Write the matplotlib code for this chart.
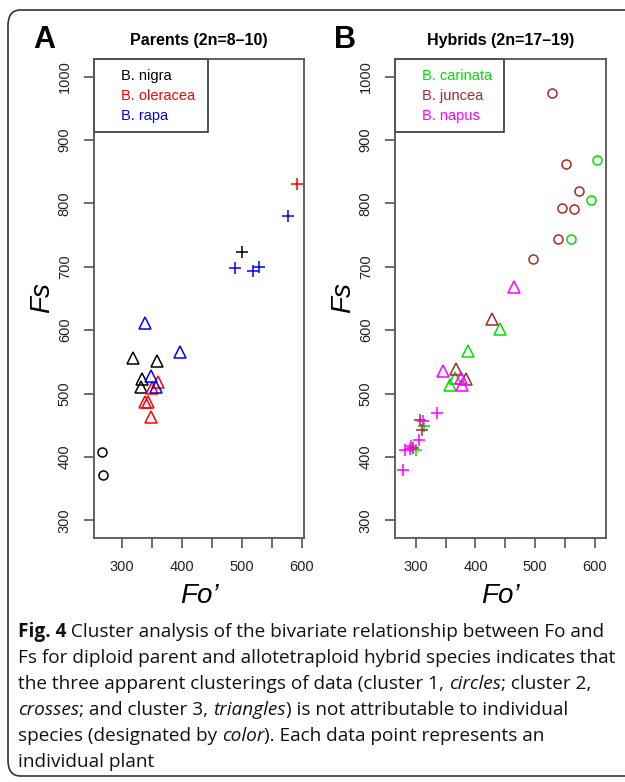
import matplotlib
matplotlib.use("Agg")
import matplotlib.pyplot as plt
from matplotlib.patches import FancyBboxPatch

W, H = 625, 782

# ---------------- data ----------------
# cluster codes: 1 = circle, 2 = cross, 3 = triangle
nigra_fo = [266, 269, 500, 318, 358, 334, 331]
nigra_fs = [408, 372, 723, 556, 552, 523, 510]
nigra_cl = [1, 1, 2, 3, 3, 3, 3]

oleracea_fo = [591, 360, 350, 339, 343, 348]
oleracea_fs = [831, 519, 508, 486, 486, 463]
oleracea_cl = [2, 3, 3, 3, 3, 3]

rapa_fo = [576, 488, 518, 528, 339, 397, 348, 356]
rapa_fs = [780, 698, 693, 700, 612, 565, 527, 511]
rapa_cl = [2, 2, 2, 2, 3, 3, 3, 3]

carinata_fo = [604, 593, 560, 441, 387, 366, 358, 314, 300]
carinata_fs = [868, 805, 744, 602, 567, 525, 514, 448, 411]
carinata_cl = [1, 1, 1, 3, 3, 3, 3, 2, 2]

juncea_fo = [528, 551, 574, 544, 565, 538, 496, 428, 368, 385, 308, 310, 296]
juncea_fs = [975, 862, 819, 793, 792, 744, 712, 617, 538, 523, 458, 442, 414]
juncea_cl = [1, 1, 1, 1, 1, 1, 1, 3, 3, 3, 2, 2, 2]

napus_fo = [465, 345, 376, 378, 336, 313, 306, 282, 293, 291, 278]
napus_fs = [668, 535, 524, 514, 470, 457, 426, 411, 417, 412, 379]
napus_cl = [3, 3, 3, 3, 2, 2, 2, 2, 2, 2, 2]

panel_letters = ["A", "B"]
panel_titles = ["Parents (2n=8\u201310)", "Hybrids (2n=17\u201319)"]
species_A = ["B. nigra", "B. oleracea", "B. rapa"]
species_B = ["B. carinata", "B. juncea", "B. napus"]
colors_A = ["black", "#FF0000", "#0000FF"]
colors_B = ["#00E000", "#A52A2A", "#FF00FF"]
y_ticks = [300, 400, 500, 600, 700, 800, 900, 1000]
x_ticks = [300, 350, 400, 450, 500, 550, 600]
x_ticklabels = ["300", "", "400", "", "500", "", "600"]
xlabel = "Fo\u2019"
ylabel = "Fs"

caption = [
    [("Fig. 4", "bold"), (" Cluster analysis of the bivariate relationship between Fo and", "normal")],
    [("Fs for diploid parent and allotetraploid hybrid species indicates that", "normal")],
    [("the three apparent clusterings of data (cluster 1, ", "normal"), ("circles", "italic"),
     ("; cluster 2,", "normal")],
    [("crosses", "italic"), ("; and cluster 3, ", "normal"), ("triangles", "italic"),
     (") is not attributable to individual", "normal")],
    [("species (designated by ", "normal"), ("color", "italic"),
     ("). Each data point represents an", "normal")],
    [("individual plant", "normal")],
]

# ---------------- figure ----------------
plt.rcParams["font.family"] = ["Liberation Sans", "DejaVu Sans"]
fig = plt.figure(figsize=(W / 100, H / 100), dpi=100)


def fx(x):
    return x / W


def fy(y):
    return 1 - y / H


# rounded frame
frame = FancyBboxPatch((fx(8), fy(776)), fx(700) - fx(8), fy(10) - fy(776),
                       boxstyle="round,pad=0,rounding_size=0.02",
                       transform=fig.transFigure, fill=False,
                       edgecolor="#333333", linewidth=1.2, clip_on=False)
fig.patches.append(frame)

markers = {1: "o", 2: "+", 3: "^"}
msizes = {1: 6.5, 2: 9, 3: 8}

panels = [
    dict(left=94, right=304, xlim=(253.2, 603.5),
         data=[(nigra_fo, nigra_fs, nigra_cl), (oleracea_fo, oleracea_fs, oleracea_cl),
               (rapa_fo, rapa_fs, rapa_cl)],
         species=species_A, colors=colors_A, leg_right=208),
    dict(left=395, right=605.7, xlim=(265.4, 617.9),
         data=[(carinata_fo, carinata_fs, carinata_cl), (juncea_fo, juncea_fs, juncea_cl),
               (napus_fo, napus_fs, napus_cl)],
         species=species_B, colors=colors_B, leg_right=504),
]
top, bottom = 59, 538
spine_col = "#555555"

for i, p in enumerate(panels):
    ax = fig.add_axes([fx(p["left"]), fy(bottom), fx(p["right"]) - fx(p["left"]),
                       fy(top) - fy(bottom)])
    for (fo, fs, cl), col in zip(p["data"], p["colors"]):
        for c in (1, 2, 3):
            xs = [a for a, k in zip(fo, cl) if k == c]
            ys = [b for b, k in zip(fs, cl) if k == c]
            if xs:
                ax.plot(xs, ys, linestyle="none", marker=markers[c], markersize=msizes[c],
                        markerfacecolor="none", markeredgecolor=col, markeredgewidth=1.1)
    ax.set_xlim(*p["xlim"])
    ax.set_ylim(272, 1028)
    ax.set_xticks(x_ticks)
    ax.set_xticklabels(x_ticklabels)
    ax.set_yticks(y_ticks)
    ax.set_yticklabels([str(v) for v in y_ticks], rotation=90, va="center")
    ax.tick_params(direction="out", length=7, width=1.2, color=spine_col,
                   labelsize=10.5, pad=9)
    for lab in ax.get_yticklabels() + ax.get_xticklabels():
        lab.set_color("#222222")
    for s in ax.spines.values():
        s.set_color(spine_col)
        s.set_linewidth(1.3)

    # legend box (text only)
    lw = p["leg_right"] - p["left"]
    ax.add_patch(plt.Rectangle((fx(p["left"]), fy(132)), fx(lw), fy(top) - fy(132),
                               transform=fig.transFigure, fill=False,
                               edgecolor="#333333", linewidth=1.2, clip_on=False))
    for j, (name, col) in enumerate(zip(p["species"], p["colors"])):
        fig.text(fx(p["left"] + 27), fy(76 + 20 * j), name, color=col, fontsize=10.5,
                 ha="left", va="center")

    # labels
    cx = (p["left"] + p["right"]) / 2
    fig.text(fx(cx), fy(596), xlabel, fontsize=20, style="italic", ha="center", va="center")
    fig.text(fx(p["left"] - 52), fy(298), ylabel, fontsize=20, style="italic",
             rotation=90, ha="center", va="center")
    fig.text(fx(p["left"] - 50), fy(40), panel_letters[i], fontsize=22, fontweight="bold",
             ha="center", va="center")
    fig.text(fx(cx), fy(40), panel_titles[i], fontsize=11.5, fontweight="bold",
             ha="center", va="center")

# caption with mixed styles
renderer = fig.canvas.get_renderer()
cap_fs = 13.7
for li, line in enumerate(caption):
    x = 18
    y = 632 + 26 * li
    for txt, sty in line:
        kw = dict(fontsize=cap_fs, family=["Open Sans", "DejaVu Sans"], ha="left",
                  va="center", color="#111111")
        if sty == "bold":
            kw["fontweight"] = "bold"
        elif sty == "italic":
            kw["style"] = "italic"
        t = fig.text(fx(x), fy(y), txt, **kw)
        bb = t.get_window_extent(renderer=renderer)
        x += bb.width

fig.savefig("out.png", dpi=100)
